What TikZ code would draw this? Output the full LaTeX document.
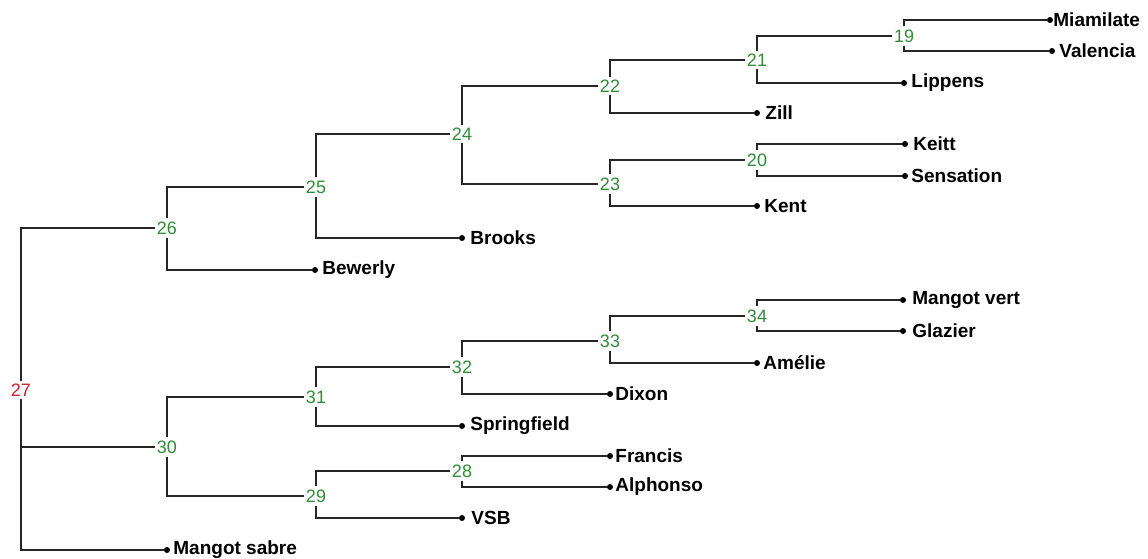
\documentclass[tikz,border=0pt]{standalone}
\usepackage{fontspec}
\setmainfont{Liberation Sans}
\usepackage{tikz}
\usetikzlibrary{positioning}
\definecolor{numgreen}{RGB}{48,140,56}
\definecolor{rootred}{RGB}{205,32,42}

\begin{document}
\begin{tikzpicture}[x=1pt, y=-1pt,
  num/.style={text=numgreen, font=\fontsize{18}{18}\selectfont, inner xsep=2pt, inner ysep=3pt},
  rootnum/.style={num, text=rootred},
  dot/.style={circle, fill=black, inner sep=0pt, minimum size=6pt},
  leaf/.style={font=\bfseries\fontsize{19}{19}\selectfont, inner sep=1pt},
  edge/.style={line width=1.2pt, draw=black!85}
]
\useasboundingbox (0,0) rectangle (1148,558);

% inner nodes
\node[rootnum] (n27) at (21,390) {27};
\node[num] (n26) at (167,228) {26};
\node[num] (n30) at (167,447) {30};
\node[num] (n25) at (316,187) {25};
\node[num] (n31) at (316,397) {31};
\node[num] (n29) at (316,496) {29};
\node[num] (n24) at (462,134) {24};
\node[num] (n32) at (462,367) {32};
\node[num] (n28) at (462,471) {28};
\node[num] (n22) at (610,86) {22};
\node[num] (n23) at (610,184) {23};
\node[num] (n33) at (610,341) {33};
\node[num] (n21) at (757,60) {21};
\node[num] (n20) at (757,160) {20};
\node[num] (n34) at (757,316) {34};
\node[num] (n19) at (904,36) {19};

% leaves
\node[dot] (dMiamilate) at (1050,20) {};
\node[dot] (dValencia) at (1052,51) {};
\node[dot] (dLippens) at (904,83) {};
\node[dot] (dZill) at (757,113) {};
\node[dot] (dKeitt) at (905,144) {};
\node[dot] (dSensation) at (905,176) {};
\node[dot] (dKent) at (757,206) {};
\node[dot] (dBrooks) at (462,238) {};
\node[dot] (dBewerly) at (315,270) {};
\node[dot] (dMangotvert) at (903,300) {};
\node[dot] (dGlazier) at (903,331) {};
\node[dot] (dAmelie) at (757,363) {};
\node[dot] (dDixon) at (610,394) {};
\node[dot] (dSpringfield) at (462,426) {};
\node[dot] (dFrancis) at (610,456) {};
\node[dot] (dAlphonso) at (610,487) {};
\node[dot] (dVSB) at (462,518) {};
\node[dot] (dMangotsabre) at (167,550) {};

\node[leaf, right=-1pt of dMiamilate] (Miamilate) {Miamilate};
\node[leaf, right=3pt of dValencia] (Valencia) {Valencia};
\node[leaf, right=3pt of dLippens] (Lippens) {Lippens};
\node[leaf, right=4pt of dZill] (Zill) {Zill};
\node[leaf, right=4pt of dKeitt] (Keitt) {Keitt};
\node[leaf, right=2pt of dSensation] (Sensation) {Sensation};
\node[leaf, right=3pt of dKent] (Kent) {Kent};
\node[leaf, right=4pt of dBrooks] (Brooks) {Brooks};
\node[leaf, right=3pt of dBewerly] (Bewerly) {Bewerly};
\node[leaf, right=5pt of dMangotvert] (Mangotvert) {Mangot vert};
\node[leaf, right=5pt of dGlazier] (Glazier) {Glazier};
\node[leaf, right=2pt of dAmelie] (Amelie) {Amélie};
\node[leaf, right=1pt of dDixon] (Dixon) {Dixon};
\node[leaf, right=1pt of dFrancis] (Francis) {Francis};
\node[leaf, right=1pt of dAlphonso] (Alphonso) {Alphonso};
\node[leaf, right=4pt of dSpringfield] (Springfield) {Springfield};
\node[leaf, right=5pt of dVSB] (VSB) {VSB};
\node[leaf, right=2pt of dMangotsabre] (Mangotsabre) {Mangot sabre};

% branches
\draw[edge] (n27) |- (n26);
\draw[edge] (n27) |- (n30);
\draw[edge] (n27) |- (dMangotsabre);
\draw[edge] (n26) |- (n25);
\draw[edge] (n26) |- (dBewerly);
\draw[edge] (n25) |- (n24);
\draw[edge] (n25) |- (dBrooks);
\draw[edge] (n24) |- (n22);
\draw[edge] (n24) |- (n23);
\draw[edge] (n22) |- (n21);
\draw[edge] (n22) |- (dZill);
\draw[edge] (n21) |- (n19);
\draw[edge] (n21) |- (dLippens);
\draw[edge] (n19) |- (dMiamilate);
\draw[edge] (n19) |- (dValencia);
\draw[edge] (n23) |- (n20);
\draw[edge] (n23) |- (dKent);
\draw[edge] (n20) |- (dKeitt);
\draw[edge] (n20) |- (dSensation);
\draw[edge] (n30) |- (n31);
\draw[edge] (n30) |- (n29);
\draw[edge] (n31) |- (n32);
\draw[edge] (n31) |- (dSpringfield);
\draw[edge] (n32) |- (n33);
\draw[edge] (n32) |- (dDixon);
\draw[edge] (n33) |- (n34);
\draw[edge] (n33) |- (dAmelie);
\draw[edge] (n34) |- (dMangotvert);
\draw[edge] (n34) |- (dGlazier);
\draw[edge] (n29) |- (n28);
\draw[edge] (n29) |- (dVSB);
\draw[edge] (n28) |- (dFrancis);
\draw[edge] (n28) |- (dAlphonso);
\end{tikzpicture}
\end{document}
